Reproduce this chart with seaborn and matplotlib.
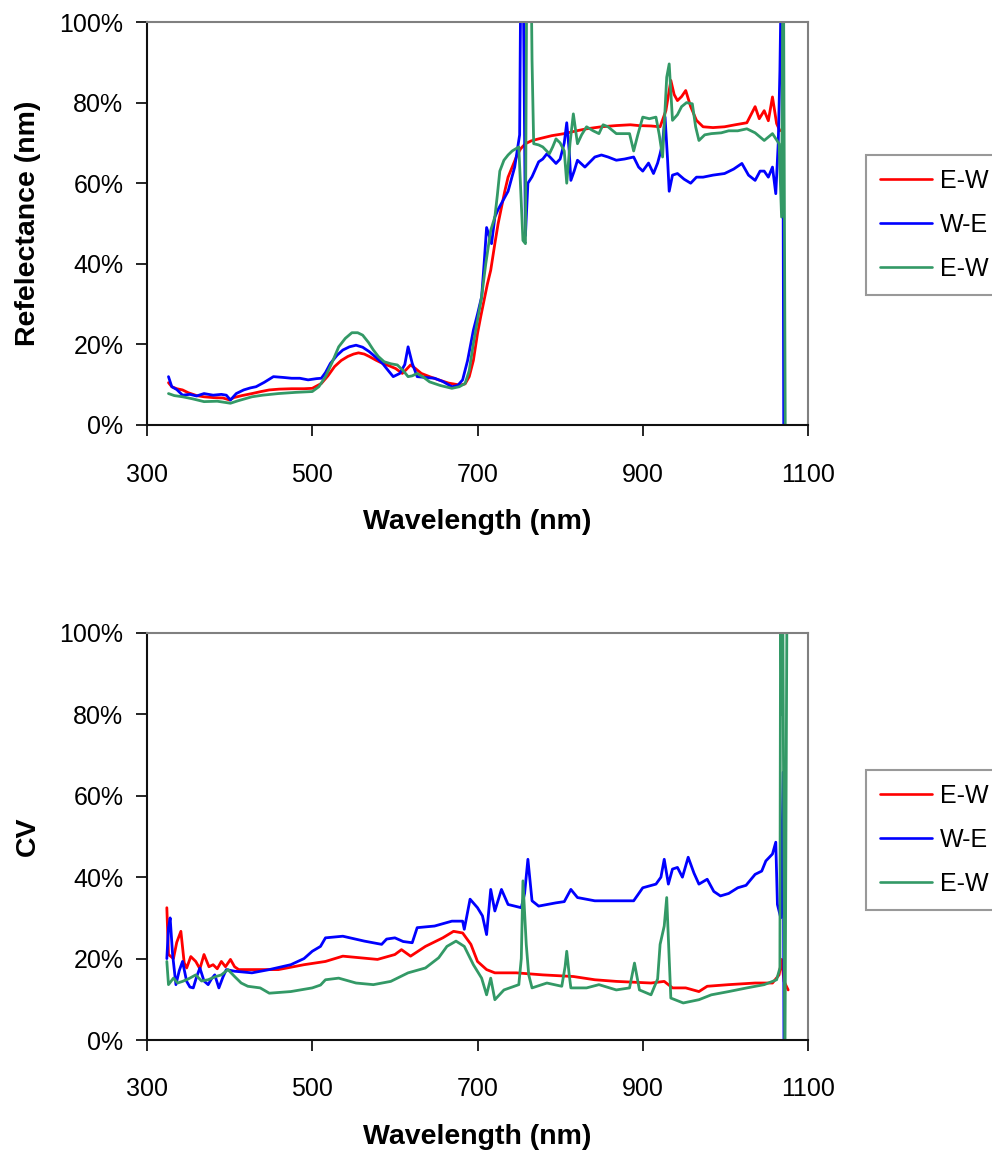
import matplotlib
matplotlib.use("Agg")
import matplotlib.pyplot as plt
from matplotlib.ticker import PercentFormatter
import seaborn as sns

# ---------------- data ----------------
series_labels = ["E-W", "W-E", "E-W"]
series_colors = ["#FF0000", "#0000FF", "#339966"]
x_ticks = [300, 500, 700, 900, 1100]
y_ticks = [0, 20, 40, 60, 80, 100]

refl_ew1_wl = [326, 330, 336, 343, 350, 360, 369, 380, 392, 400, 405, 415, 427, 438, 448, 460, 475, 490, 500, 511,
               519, 527, 535, 543, 550, 556, 563, 569, 577, 585, 593, 601, 609, 614, 619, 625, 632, 642, 653, 665,
               679, 685, 690, 695, 700, 704, 708, 712, 716, 721, 725, 729, 733, 737, 742, 747, 752, 758, 765, 774,
               790, 805, 820, 832, 850, 868, 885, 895, 910, 921, 928, 934, 938, 942, 947, 952, 958, 965, 973, 985,
               999, 1012, 1026, 1031, 1036, 1041, 1047, 1052, 1057, 1062, 1066]
refl_ew1 = [10.5, 9.5, 9.0, 8.7, 8.0, 7.3, 7.0, 6.8, 6.7, 6.2, 6.8, 7.3, 7.8, 8.3, 8.7, 8.9, 9.0, 9.0, 9.1, 10.3,
            12.2, 14.5, 16.0, 17.0, 17.6, 17.9, 17.6, 17.0, 16.1, 15.3, 14.7, 14.0, 12.8, 13.8, 14.9, 14.0, 12.8, 12.0, 11.2, 10.4,
            9.9, 10.2, 12.0, 16.0, 22.7, 27.0, 31.0, 35.0, 38.4, 45.0, 50.0, 54.0, 58.0, 61.5, 64.0, 66.5, 68.5, 69.8, 70.5, 71.0,
            71.8, 72.3, 73.0, 73.5, 74.0, 74.3, 74.5, 74.3, 74.2, 74.0, 78.0, 85.5, 82.0, 80.5, 81.5, 83.0, 79.0, 75.6, 74.0, 73.8,
            74.0, 74.5, 75.0, 77.0, 79.0, 76.0, 78.0, 75.5, 81.4, 74.8, 73.0]

refl_we_wl = [326, 330, 336, 343, 352, 360, 369, 380, 390, 396, 401, 408, 417, 425, 432, 442, 453, 465, 475, 485,
              495, 505, 511, 516, 522, 530, 537, 545, 553, 561, 569, 577, 585, 592, 598, 606, 612, 616, 621, 627,
              637, 648, 658, 669, 676, 682, 688, 695, 700, 705, 708, 711, 714, 717, 721, 725, 729, 733, 737, 741,
              745, 748, 751, 753, 755, 758, 761, 766, 774, 779, 784, 790, 795, 800, 805, 808, 811, 813, 817, 821,
              830, 842, 850, 858, 868, 878, 889, 895, 900, 907, 913, 918, 921, 924, 927, 930, 932, 936, 942, 950,
              958, 965, 973, 985, 999, 1010, 1020, 1028, 1036, 1042, 1047, 1052, 1057, 1061, 1064, 1066, 1069, 1071]
refl_we = [12.0, 9.5, 8.8, 7.4, 7.6, 7.2, 7.8, 7.4, 7.6, 7.4, 6.2, 7.8, 8.7, 9.2, 9.5, 10.6, 12.0, 11.8, 11.6, 11.6,
           11.2, 11.5, 11.6, 13.0, 15.3, 17.3, 18.6, 19.4, 19.8, 19.3, 18.2, 16.8, 15.3, 13.5, 12.0, 12.8, 15.0, 19.4, 15.3, 12.0,
           11.8, 11.6, 10.8, 9.5, 9.8, 11.2, 16.0, 23.5, 27.5, 31.8, 40.0, 49.0, 47.0, 45.0, 51.6, 53.5, 55.0, 56.5, 58.0, 61.0,
           64.0, 68.0, 72.0, 130.0, 120.0, 47.0, 60.0, 61.6, 65.3, 66.0, 67.3, 66.0, 64.9, 66.0, 70.0, 75.0, 68.0, 60.7, 63.0, 65.7,
           64.0, 66.5, 67.0, 66.5, 65.7, 66.0, 66.5, 64.0, 63.0, 65.0, 62.4, 65.0, 67.3, 70.0, 76.4, 66.0, 58.0, 62.0, 62.4, 61.0,
           60.0, 61.5, 61.5, 62.0, 62.4, 63.5, 64.9, 62.0, 60.7, 63.0, 63.0, 61.5, 64.0, 57.4, 70.0, 88.0, 130.0, -30.0]

refl_ew2_wl = [326, 333, 343, 355, 369, 385, 401, 410, 427, 440, 459, 480, 500, 508, 516, 524, 532, 540, 548, 555,
               561, 568, 574, 580, 587, 595, 603, 610, 616, 621, 627, 635, 642, 655, 669, 678, 685, 690, 695, 700,
               705, 710, 716, 721, 724, 727, 732, 737, 742, 750, 753, 755, 758, 760, 764, 766, 768, 774, 779, 787,
               791, 795, 800, 805, 808, 812, 816, 821, 826, 832, 840, 847, 852, 858, 868, 876, 884, 889, 894, 900,
               908, 916, 920, 924, 929, 932, 936, 942, 947, 953, 960, 964, 968, 975, 983, 995, 1004, 1015, 1026, 1036,
               1047, 1057, 1065, 1068, 1070, 1073]
refl_ew2 = [7.8, 7.3, 7.0, 6.5, 5.8, 5.9, 5.4, 6.0, 7.0, 7.4, 7.8, 8.1, 8.3, 9.5, 12.0, 15.5, 19.4, 21.5, 22.9, 22.9,
            22.3, 20.5, 18.6, 17.0, 15.7, 15.2, 14.9, 13.5, 12.0, 12.2, 12.8, 11.8, 10.7, 9.8, 9.1, 9.5, 10.3, 13.5, 20.2, 26.0,
            31.8, 40.0, 48.3, 51.6, 57.0, 63.0, 65.7, 67.0, 68.0, 69.0, 55.0, 45.8, 45.0, 130.0, 130.0, 90.5, 69.8, 69.5, 69.0, 67.3,
            69.0, 71.0, 70.0, 68.0, 60.0, 70.0, 77.2, 69.8, 72.0, 74.0, 73.0, 72.3, 74.5, 74.0, 72.3, 72.3, 72.3, 68.0, 72.0, 76.4,
            76.0, 76.4, 72.0, 66.5, 86.3, 89.6, 75.6, 77.0, 79.0, 80.0, 79.7, 74.0, 70.6, 72.0, 72.3, 72.5, 73.0, 73.0, 73.5, 72.5,
            70.6, 72.3, 69.8, 51.6, 130.0, -30.0]

cv_ew1_wl = [324, 326, 332, 336, 341, 345, 348, 353, 359, 364, 369, 375, 380, 385, 390, 395, 401, 406, 411, 432,
             459, 490, 516, 537, 558, 579, 600, 608, 619, 637, 658, 671, 682, 692, 700, 711, 721, 747, 779, 816,
             842, 868, 910, 926, 936, 952, 968, 978, 1004, 1036, 1057, 1065, 1068, 1071, 1076]
cv_ew1 = [32.5, 21.0, 20.0, 24.0, 26.7, 19.0, 17.7, 20.5, 19.3, 17.5, 21.0, 18.0, 18.5, 17.5, 19.3, 18.0, 19.8, 18.0, 17.3, 17.3,
          17.3, 18.5, 19.3, 20.6, 20.2, 19.8, 21.0, 22.2, 20.6, 23.0, 25.1, 26.7, 26.3, 23.5, 19.3, 17.3, 16.5, 16.5, 16.0, 15.6,
          14.8, 14.4, 14.0, 14.4, 12.8, 12.8, 11.9, 13.2, 13.6, 14.0, 14.0, 16.0, 19.8, 14.4, 12.3]

cv_we_wl = [324, 326, 328, 331, 335, 339, 343, 348, 352, 356, 360, 364, 369, 374, 378, 382, 387, 392, 396, 406,
            427, 448, 474, 490, 500, 510, 516, 537, 563, 584, 590, 600, 610, 621, 627, 648, 669, 682, 684, 691,
            700, 706, 711, 716, 721, 729, 737, 753, 757, 761, 766, 774, 795, 805, 813, 821, 842, 868, 889, 900,
            916, 922, 926, 931, 936, 942, 948, 955, 962, 968, 978, 986, 994, 1004, 1015, 1025, 1036, 1044, 1049, 1057,
            1061, 1063, 1067, 1070, 1071]
cv_we = [20.0, 27.6, 30.0, 21.0, 13.6, 17.0, 19.3, 14.4, 13.0, 12.8, 15.5, 17.7, 14.5, 13.6, 15.0, 16.0, 12.8, 15.5, 17.3, 16.9,
         16.5, 17.3, 18.5, 20.0, 21.8, 23.0, 25.1, 25.5, 24.3, 23.5, 24.8, 25.1, 24.2, 23.9, 27.6, 28.0, 29.2, 29.2, 27.2, 34.6,
         32.5, 30.5, 25.9, 37.0, 31.7, 37.0, 33.3, 32.5, 36.0, 44.4, 34.2, 32.9, 33.7, 34.0, 37.0, 35.0, 34.2, 34.2, 34.2, 37.4,
         38.3, 40.0, 44.4, 38.3, 42.0, 42.4, 40.0, 44.9, 41.0, 38.3, 39.5, 36.5, 35.4, 36.0, 37.4, 38.0, 40.7, 41.5, 44.0, 45.7,
         48.6, 33.3, 30.0, 65.8, -10.0]

cv_ew2_wl = [324, 326, 332, 337, 343, 350, 359, 366, 374, 382, 390, 398, 406, 414, 422, 437, 448, 474, 500, 510,
             516, 532, 553, 574, 595, 616, 637, 653, 663, 674, 684, 695, 705, 711, 716, 721, 732, 750, 753, 755,
             759, 762, 766, 784, 802, 806, 808, 811, 813, 832, 847, 868, 884, 890, 896, 910, 918, 921, 926, 929,
             932, 934, 949, 968, 983, 1004, 1026, 1047, 1062, 1066, 1067, 1068, 1069, 1072, 1075]
cv_ew2 = [19.3, 13.6, 15.2, 14.0, 14.4, 15.0, 16.0, 14.5, 14.8, 15.5, 16.0, 17.3, 15.6, 14.0, 13.2, 12.8, 11.5, 11.9, 12.8, 13.5,
          14.8, 15.2, 14.0, 13.6, 14.4, 16.5, 17.7, 20.2, 23.0, 24.3, 23.0, 18.5, 15.2, 11.1, 15.2, 9.9, 12.3, 13.6, 20.0, 39.1,
          23.5, 16.0, 12.8, 14.0, 13.2, 18.0, 21.8, 16.0, 12.8, 12.8, 13.6, 12.3, 12.8, 18.9, 12.3, 11.1, 15.0, 23.5, 28.0, 35.0,
          20.0, 10.3, 9.1, 9.9, 11.1, 11.9, 12.8, 13.6, 14.8, 17.7, 130.0, 80.0, 130.0, -10.0, 130.0]

# ---------------- style ----------------
sns.set_theme(style="white")
plt.rcParams["font.family"] = ["Liberation Sans", "DejaVu Sans"]
plt.rcParams["text.color"] = "black"
plt.rcParams["axes.labelcolor"] = "black"
plt.rcParams["xtick.color"] = "black"
plt.rcParams["ytick.color"] = "black"

fig = plt.figure(figsize=(9.92, 11.5), dpi=100)
fig.patch.set_facecolor("white")

ax_top = fig.add_axes([147 / 992, 1 - 425 / 1150, 661 / 992, 403 / 1150])
ax_bot = fig.add_axes([147 / 992, 1 - 1040 / 1150, 661 / 992, 407 / 1150])

panels = [
    (ax_top, [(refl_ew1_wl, refl_ew1), (refl_we_wl, refl_we), (refl_ew2_wl, refl_ew2)],
     "Refelectance (nm)", 155),
    (ax_bot, [(cv_ew1_wl, cv_ew1), (cv_we_wl, cv_we), (cv_ew2_wl, cv_ew2)],
     "CV", 770),
]

for ax, data, ylab, leg_top in panels:
    for (wl, vals), lab, col in zip(data, series_labels, series_colors):
        sns.lineplot(x=wl, y=vals, ax=ax, color=col, lw=2.0, estimator=None,
                     sort=False, label=lab)
    ax.set_xlim(300, 1100)
    ax.set_ylim(0, 100)
    ax.set_xticks(x_ticks)
    ax.set_yticks(y_ticks)
    ax.yaxis.set_major_formatter(PercentFormatter(xmax=100, decimals=0))
    ax.tick_params(axis="both", which="major", direction="out", length=8, width=1.2,
                   color="black", labelcolor="black", labelsize=18, bottom=True, left=True)
    ax.tick_params(axis="x", pad=19)
    ax.tick_params(axis="y", pad=9)
    ax.set_xlabel("Wavelength (nm)", fontsize=20.5, fontweight="bold", labelpad=16, color="black")
    ax.set_ylabel(ylab, fontsize=20.5, fontweight="bold", labelpad=13, color="black")
    for side in ["top", "right"]:
        ax.spines[side].set_color("#808080")
        ax.spines[side].set_linewidth(1.5)
    for side in ["left", "bottom"]:
        ax.spines[side].set_color("#101010")
        ax.spines[side].set_linewidth(1.5)
    ax.grid(False)
    leg = ax.legend(loc="upper left", bbox_to_anchor=(866 / 992, 1 - leg_top / 1150),
                    bbox_transform=fig.transFigure, fontsize=18, frameon=True,
                    fancybox=False, edgecolor="#808080", handlelength=2.1,
                    handletextpad=0.3, labelspacing=0.8, borderpad=0.55,
                    borderaxespad=0)
    leg.get_frame().set_linewidth(1.5)
    for t in leg.get_texts():
        t.set_color("black")
    for h in leg.get_lines():
        h.set_linewidth(1.9)

fig.savefig("out.png", dpi=100, facecolor="white")
